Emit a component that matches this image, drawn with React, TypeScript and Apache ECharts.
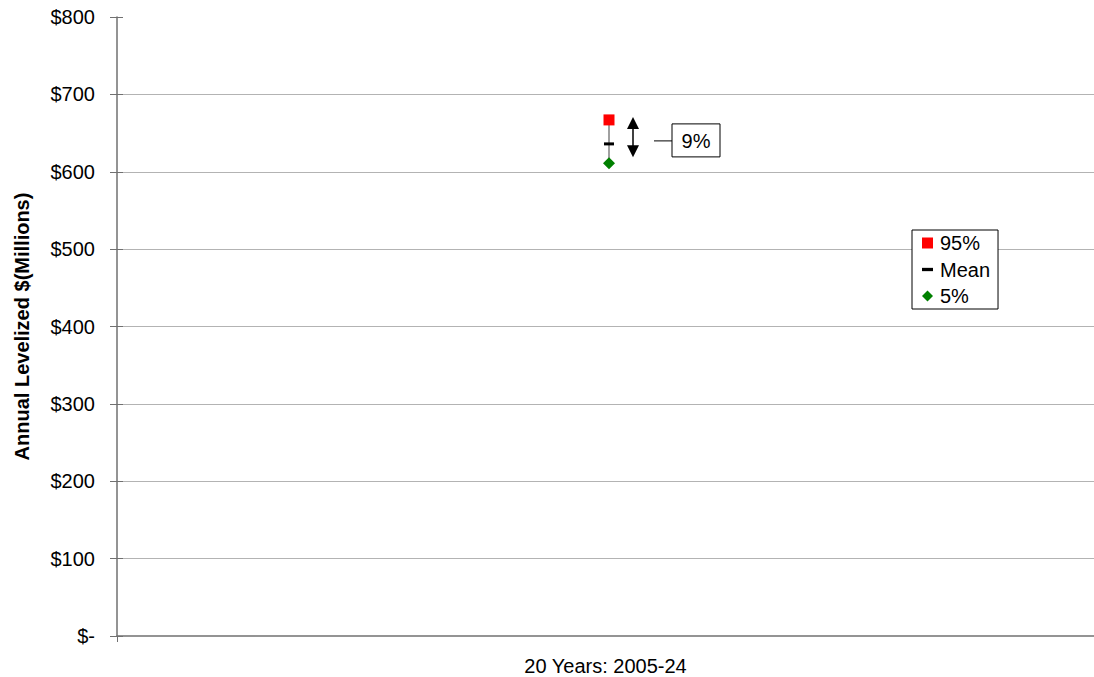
import React, { useEffect, useRef } from "react";
import * as echarts from "echarts";

const categories = ["20 Years: 2005-24"];
const p95 = [667];
const meanVals = [636];
const p5 = [611];
const seriesNames = ["95%", "Mean", "5%"];

const DASH = "path://M0,0H10V3H0Z";
const FONT = "Liberation Sans, Arial, sans-serif";
const SHIFT = 3.5;

export default function App() {
  const ref = useRef<HTMLDivElement>(null);
  useEffect(() => {
    document.body.style.margin = "0";
    const chart = echarts.init(ref.current!, null, { renderer: "svg" });
    const pctLabel = `${Math.round(((p95[0] - p5[0]) / meanVals[0]) * 100)}%`;
    const axisColor = "#707070";
    chart.setOption({
      animation: false,
      backgroundColor: "#fff",
      textStyle: { fontFamily: FONT, color: "#000" },
      grid: { left: 117, right: 0, top: 17, bottom: 41 },
      legend: {
        orient: "vertical",
        left: 912,
        top: 230,
        padding: [3, 8, 3, 10],
        itemGap: 6.5,
        itemWidth: 11,
        itemHeight: 11,
        borderColor: "#000",
        borderWidth: 1,
        backgroundColor: "#fff",
        borderRadius: 0,
        textStyle: { fontSize: 20, color: "#000", fontFamily: FONT, padding: [0, 0, 0, 2] },
        data: [
          { name: seriesNames[0], icon: "rect" },
          { name: seriesNames[1], icon: DASH },
          { name: seriesNames[2], icon: "diamond" },
        ],
      },
      xAxis: {
        type: "category",
        data: categories,
        boundaryGap: true,
        axisLine: { lineStyle: { color: axisColor, width: 1.5 } },
        axisTick: { show: true, length: 6, lineStyle: { color: axisColor } },
        axisLabel: { fontSize: 20, color: "#000", margin: 20, fontFamily: FONT },
        splitLine: { show: false },
      },
      yAxis: [
        {
          type: "value",
          min: 0,
          max: 800,
          interval: 100,
          name: "Annual Levelized $(Millions)",
          nameLocation: "middle",
          nameGap: 85,
          nameTextStyle: { fontSize: 20, fontWeight: "bold", color: "#000", fontFamily: FONT },
          axisLine: { show: true, lineStyle: { color: axisColor, width: 1.5 } },
          axisTick: { show: true, length: 7, lineStyle: { color: axisColor } },
          axisLabel: {
            fontSize: 20,
            color: "#000",
            margin: 22,
            fontFamily: FONT,
            formatter: (v: number) => (v === 0 ? "$-" : "$" + v),
          },
          splitLine: { show: true, showMaxLine: false, showMinLine: false, lineStyle: { color: "#b3b3b3", width: 1 } },
        },
        {
          type: "value",
          show: true,
          min: 0,
          max: 800,
          interval: 100,
          position: "left",
          offset: -6,
          axisLine: { show: false },
          axisTick: { show: true, inside: false, length: 6, lineStyle: { color: axisColor } },
          axisLabel: { show: false },
          splitLine: { show: false },
        },
      ],
      series: [
        {
          type: "custom",
          name: "range",
          z: 1,
          data: [[0, p95[0], p5[0], meanVals[0]]],
          encode: { x: 0, y: [1, 2] },
          renderItem: (params: any, api: any) => {
            const h = api.coord([api.value(0), api.value(1)]);
            const l = api.coord([api.value(0), api.value(2)]);
            const m = api.coord([api.value(0), api.value(3)]);
            const x = h[0] + SHIFT;
            const ax = x + 24;
            const top = h[1] - 3;
            const bot = l[1] - 6;
            const ly = m[1] - 3;
            return {
              type: "group",
              children: [
                { type: "line", shape: { x1: x, y1: h[1], x2: x, y2: l[1] }, style: { stroke: "#808080", lineWidth: 1.5 } },
                { type: "line", shape: { x1: ax, y1: top + 10, x2: ax, y2: bot - 10 }, style: { stroke: "#000", lineWidth: 1.5 } },
                { type: "polygon", shape: { points: [[ax, top], [ax - 6, top + 12], [ax + 6, top + 12]] }, style: { fill: "#000" } },
                { type: "polygon", shape: { points: [[ax, bot], [ax - 6, bot - 12], [ax + 6, bot - 12]] }, style: { fill: "#000" } },
                { type: "line", shape: { x1: ax + 21, y1: ly, x2: ax + 39, y2: ly }, style: { stroke: "#000", lineWidth: 1 } },
                { type: "rect", shape: { x: ax + 39, y: ly - 17, width: 48, height: 33 }, style: { fill: "#fff", stroke: "#000", lineWidth: 1 } },
                {
                  type: "text",
                  x: ax + 63,
                  y: ly,
                  style: { text: pctLabel, fontSize: 20, fontFamily: FONT, fill: "#000", align: "center", verticalAlign: "middle" },
                },
              ],
            };
          },
        },
        {
          type: "scatter",
          name: seriesNames[0],
          z: 3,
          symbol: "rect",
          symbolSize: 11,
          symbolOffset: [SHIFT, 0],
          itemStyle: { color: "#ff0000", opacity: 1 },
          data: p95,
        },
        {
          type: "scatter",
          name: seriesNames[1],
          z: 3,
          symbol: DASH,
          symbolSize: [10, 3],
          symbolOffset: [SHIFT, 0],
          itemStyle: { color: "#000", opacity: 1 },
          data: meanVals,
        },
        {
          type: "scatter",
          name: seriesNames[2],
          z: 3,
          symbol: "diamond",
          symbolSize: 12,
          symbolOffset: [SHIFT, 0],
          itemStyle: { color: "#008000", opacity: 1 },
          data: p5,
        },
      ],
    });
    return () => chart.dispose();
  }, []);
  return <div ref={ref} style={{ width: 1094, height: 677 }} />;
}
